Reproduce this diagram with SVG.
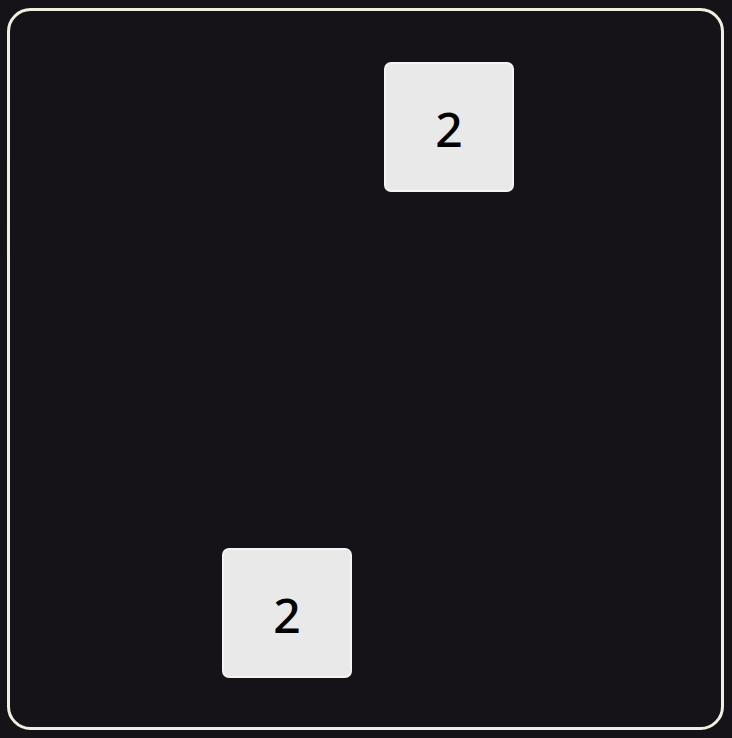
<svg xmlns="http://www.w3.org/2000/svg" width="732" height="738" viewBox="0 0 732 738">
<style>
.tile rect{fill:#e9e9e9;stroke:#f4f4f4;stroke-width:2}
.tile text{font-family:"Noto Sans","Open Sans",sans-serif;font-size:48px;font-weight:500;fill:#000;text-anchor:middle}
</style>
<rect x="0" y="0" width="732" height="738" fill="#151318"/>
<g id="board">
<rect x="8.5" y="9.5" width="714" height="719" rx="22" fill="#151318" stroke="#f0eedf" stroke-width="3"/>
</g>
<g id="tile1" class="tile">
<rect x="385" y="63" width="128" height="128" rx="6"/>
<text x="449" y="147">2</text>
</g>
<g id="tile2" class="tile">
<rect x="223" y="549" width="128" height="128" rx="6"/>
<text x="287" y="633">2</text>
</g>
<g id="connectors"/>
</svg>
